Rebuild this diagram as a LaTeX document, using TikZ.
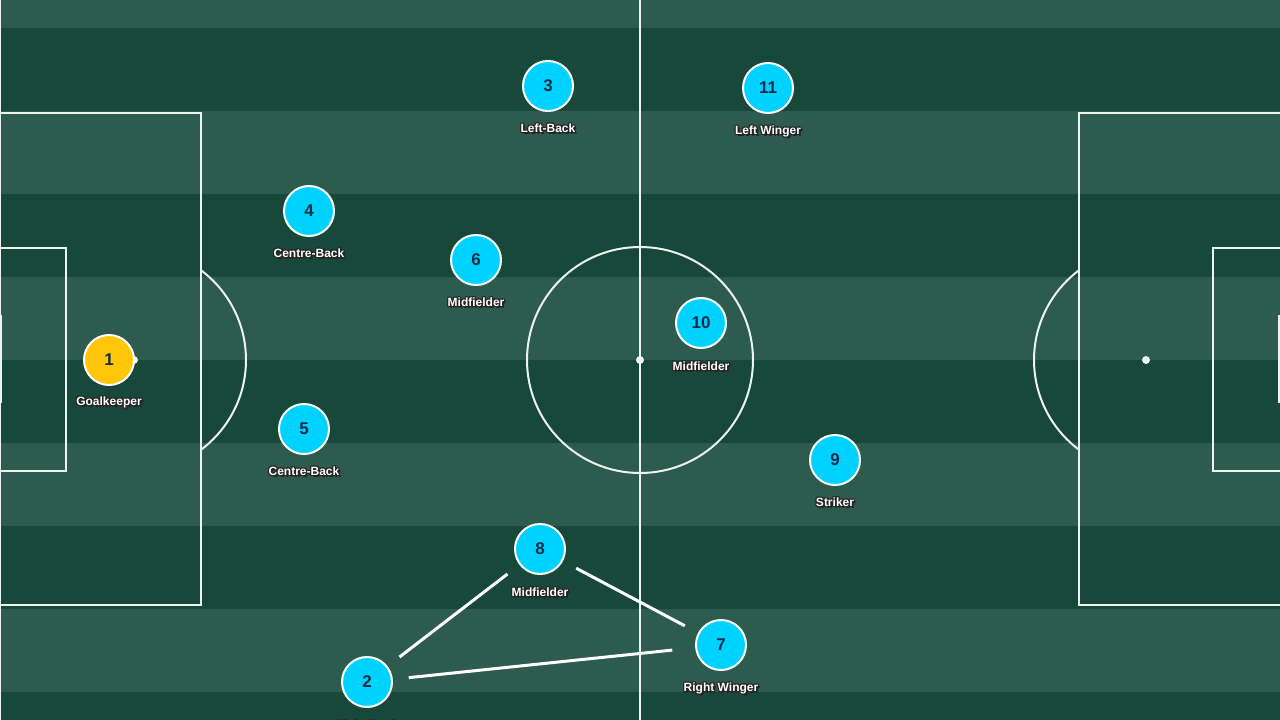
\documentclass[tikz,border=0pt]{standalone}
\usepackage{fontspec}
\setmainfont{Liberation Sans}
\usetikzlibrary{calc}
\definecolor{stripelight}{RGB}{45,92,79}
\definecolor{stripedark}{RGB}{23,72,58}
\definecolor{playercyan}{RGB}{0,210,255}
\definecolor{keeperyellow}{RGB}{255,198,10}
\definecolor{numnavy}{RGB}{12,45,70}
\definecolor{pitchline}{RGB}{235,244,240}
\tikzset{
  pline/.style={draw=pitchline, line width=2pt},
  player/.style={circle, draw=white, line width=2pt, fill=playercyan, minimum size=50pt, inner sep=0pt,
    text=numnavy, font=\bfseries\fontsize{17}{17}\selectfont},
  keeper/.style={player, fill=keeperyellow},
  lbltext/.style={text=white, font=\bfseries\fontsize{12}{12}\selectfont, inner sep=0pt},
  pass/.style={draw=white, line width=3pt, shorten >=15pt, shorten <=15pt}
}
\newcommand\plabel[4]{%
  \foreach \dx/\dy in {-1/-1,-1/0,-1/1,0/-1,0/1,1/-1,1/0,1/1,1.5/1.5,2/2}{%
    \node[lbltext,text=black!85] at ([shift={(\dx,\dy)}]#2,#3) {#4};}%
  \node[lbltext] (#1) at (#2,#3) {#4};}
\begin{document}
\begin{tikzpicture}[x=1pt,y=-1pt]
\useasboundingbox (0,0) rectangle (1280,720);
\begin{scope}
\clip (0,0) rectangle (1280,720);
% stripes
\fill[stripelight] (0,0) rectangle (1280,720);
\foreach \yy in {28,194,360,526,692}{\fill[stripedark] (0,\yy) rectangle (1280,\yy+83);}
% pitch markings
\draw[pline, line width=1.5pt] (0.5,0) -- (0.5,720);
\draw[pline] (640,0) -- (640,720);
\draw[pline] (640,360) circle[radius=113];
\fill[pitchline] (640,360) circle[radius=4];
% left
\draw[pline] (0,113) -- (201,113) -- (201,605) -- (0,605);
\draw[pline] (0,248) -- (66,248) -- (66,471) -- (0,471);
\draw[pitchline, line width=4pt] (0,315) -- (0,403);
\fill[pitchline] (134,360) circle[radius=4];
\begin{scope}
\clip (201,0) rectangle (400,720);
\draw[pline] (134,360) circle[radius=112];
\end{scope}
% right
\draw[pline] (1280,113) -- (1079,113) -- (1079,605) -- (1280,605);
\draw[pline] (1280,248) -- (1213,248) -- (1213,471) -- (1280,471);
\draw[pitchline, line width=4pt] (1280,315) -- (1280,403);
\fill[pitchline] (1146,360) circle[radius=4];
\begin{scope}
\clip (900,0) rectangle (1079,720);
\draw[pline] (1146,360) circle[radius=112];
\end{scope}
% players
\node[keeper] (p1) at (109,360) {1};
\node[player] (p3) at (548,86) {3};
\node[player] (p11) at (768,88) {11};
\node[player] (p4) at (309,211) {4};
\node[player] (p6) at (476,260) {6};
\node[player] (p10) at (701,323) {10};
\node[player] (p5) at (304,429) {5};
\node[player] (p9) at (835,460) {9};
\node[player] (p8) at (540,549) {8};
\node[player] (p7) at (721,645) {7};
\node[player] (p2) at (367,682) {2};
% passing lines
\draw[pass] (p8) -- (p2);
\draw[pass] (p8) -- (p7);
\draw[pass, shorten <=16pt, shorten >=23pt] (p2) -- (p7);
% labels
\plabel{l1}{109}{402}{Goalkeeper}
\plabel{l3}{548}{128}{Left-Back}
\plabel{l11}{768}{131}{Left Winger}
\plabel{l4}{309}{253}{Centre-Back}
\plabel{l6}{476}{302}{Midfielder}
\plabel{l10}{701}{366}{Midfielder}
\plabel{l5}{304}{471}{Centre-Back}
\plabel{l9}{835}{502}{Striker}
\plabel{l8}{540}{592}{Midfielder}
\plabel{l7}{721}{688}{Right Winger}
\plabel{l2}{367}{726}{Right-Back}
\end{scope}
\end{tikzpicture}
\end{document}
